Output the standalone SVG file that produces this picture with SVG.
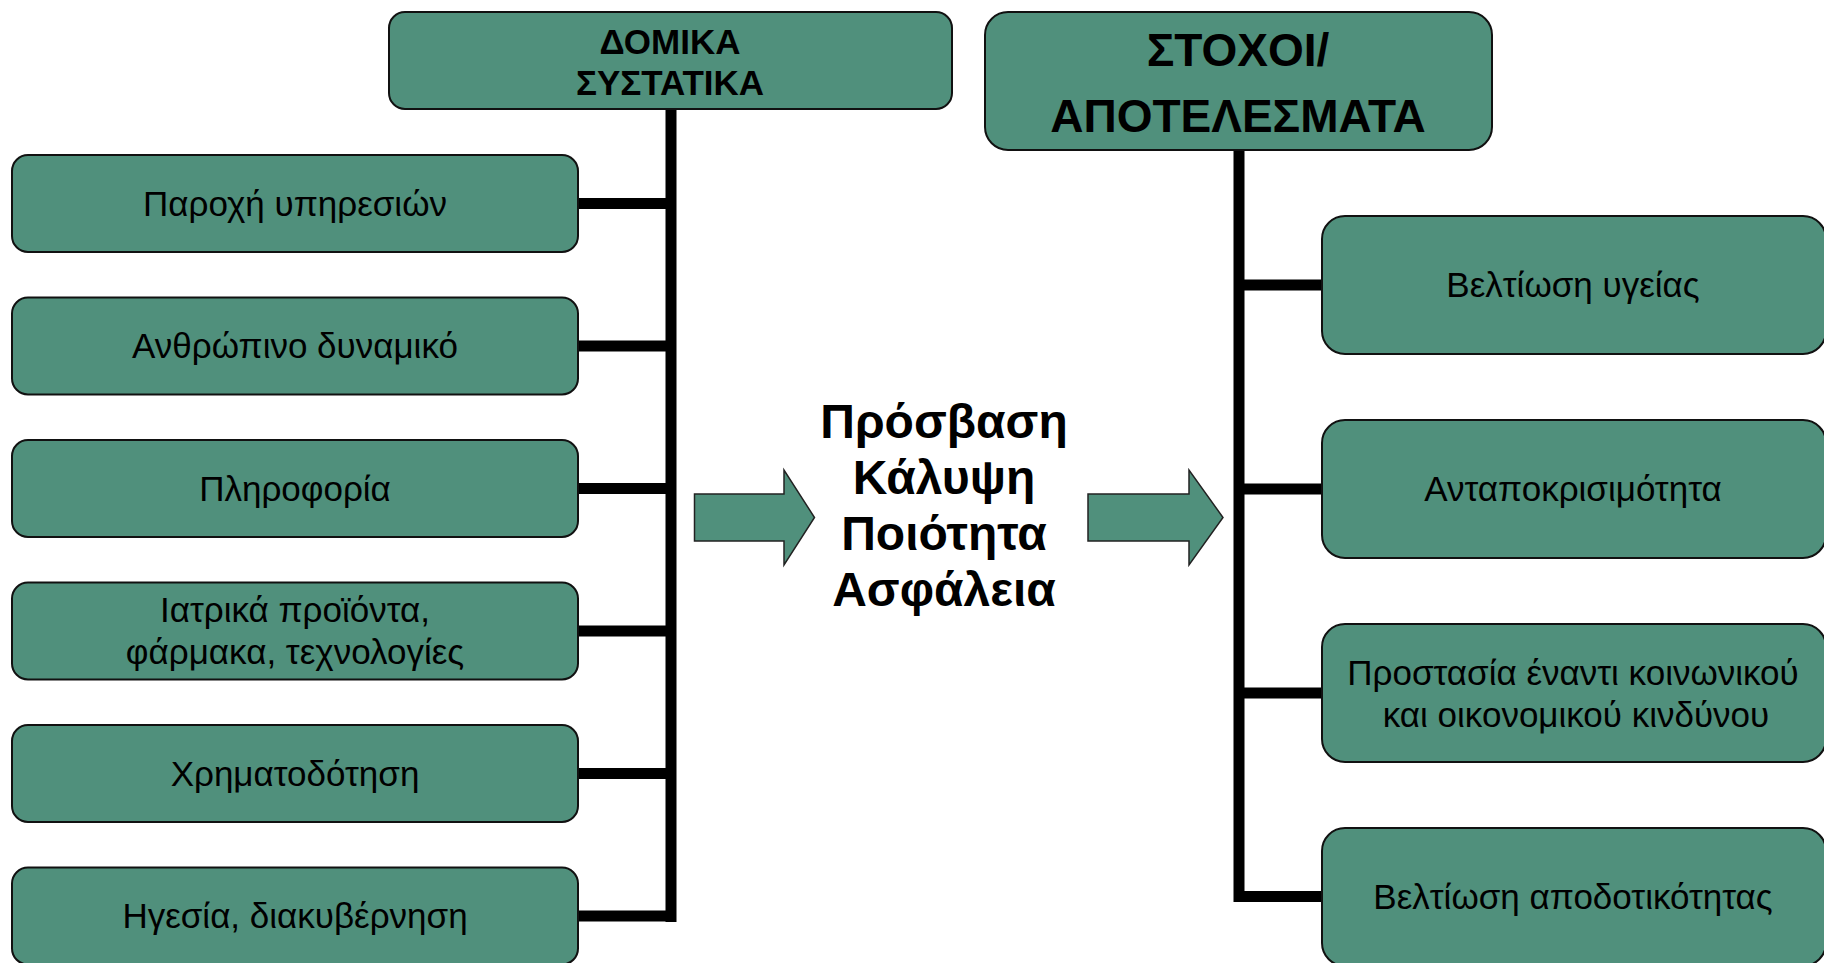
<svg xmlns="http://www.w3.org/2000/svg" width="1824" height="963" viewBox="0 0 1824 963">
<style>
.box{fill:#50907C;stroke:#111;stroke-width:2}
.t{font-family:"Liberation Sans",Arial,sans-serif;fill:#000;text-anchor:middle}
.r{font-size:35px}
.b{font-weight:bold}
.conn{stroke:#000;stroke-width:11;fill:none}
.arrow{fill:#50907C;stroke:#222;stroke-width:1.5}
</style>
<rect width="1824" height="963" fill="#fff"/>
<g id="connectors">
<path class="conn" d="M671,108 V922"/>
<path class="conn" d="M578,203.5 H676 M578,346 H676 M578,488.5 H676 M578,631 H676 M578,773.5 H676 M578,916 H676"/>
<path class="conn" d="M1239,150 V902"/>
<path class="conn" d="M1234,285 H1322 M1234,489 H1322 M1234,693 H1322 M1234,896.5 H1322"/>
</g>
<g id="n-domika"><rect class="box" x="389" y="12" width="563" height="97" rx="16"/>
<text class="t b" x="670" y="54" font-size="35">ΔΟΜΙΚΑ</text><text class="t b" x="670" y="95" font-size="35">ΣΥΣΤΑΤΙΚΑ</text></g>
<g id="n-stoxoi"><rect class="box" x="985" y="12" width="507" height="138" rx="23"/>
<text class="t b" x="1238" y="66" font-size="46">ΣΤΟΧΟΙ/</text><text class="t b" x="1238" y="132" font-size="46">ΑΠΟΤΕΛΕΣΜΑΤΑ</text></g>
<g id="n-l1"><rect class="box" x="12" y="155" width="566" height="97" rx="16"/><text class="t r" x="295" y="216">Παροχή υπηρεσιών</text></g>
<g id="n-l2"><rect class="box" x="12" y="297.5" width="566" height="97" rx="16"/><text class="t r" x="295" y="358">Ανθρώπινο δυναμικό</text></g>
<g id="n-l3"><rect class="box" x="12" y="440" width="566" height="97" rx="16"/><text class="t r" x="295" y="501">Πληροφορία</text></g>
<g id="n-l4"><rect class="box" x="12" y="582.5" width="566" height="97" rx="16"/><text class="t r" x="295" y="622">Ιατρικά προϊόντα,</text><text class="t r" x="295" y="664">φάρμακα, τεχνολογίες</text></g>
<g id="n-l5"><rect class="box" x="12" y="725" width="566" height="97" rx="16"/><text class="t r" x="295" y="786">Χρηματοδότηση</text></g>
<g id="n-l6"><rect class="box" x="12" y="867.5" width="566" height="97" rx="16"/><text class="t r" x="295" y="928">Ηγεσία, διακυβέρνηση</text></g>
<g id="n-r1"><rect class="box" x="1322" y="216" width="504" height="138" rx="23"/><text class="t r" x="1573" y="297">Βελτίωση υγείας</text></g>
<g id="n-r2"><rect class="box" x="1322" y="420" width="504" height="138" rx="23"/><text class="t r" x="1573" y="501">Ανταποκρισιμότητα</text></g>
<g id="n-r3"><rect class="box" x="1322" y="624" width="504" height="138" rx="23"/><text class="t r" x="1573" y="685">Προστασία έναντι κοινωνικού</text><text class="t r" x="1576" y="727">και οικονομικού κινδύνου</text></g>
<g id="n-r4"><rect class="box" x="1322" y="828" width="504" height="138" rx="23"/><text class="t r" x="1573" y="909">Βελτίωση αποδοτικότητας</text></g>
<g id="n-center">
<path class="arrow" d="M694.5,494 H784 V470 L814.5,517.5 L784,565 V541 H694.5 Z"/>
<text class="t b" x="944" y="438" font-size="48">Πρόσβαση</text>
<text class="t b" x="944" y="494" font-size="48">Κάλυψη</text>
<text class="t b" x="944" y="550" font-size="48">Ποιότητα</text>
<text class="t b" x="944" y="606" font-size="48">Ασφάλεια</text>
<path class="arrow" d="M1088,494 H1189 V470 L1223,517.5 L1189,565 V541 H1088 Z"/>
</g>
</svg>
